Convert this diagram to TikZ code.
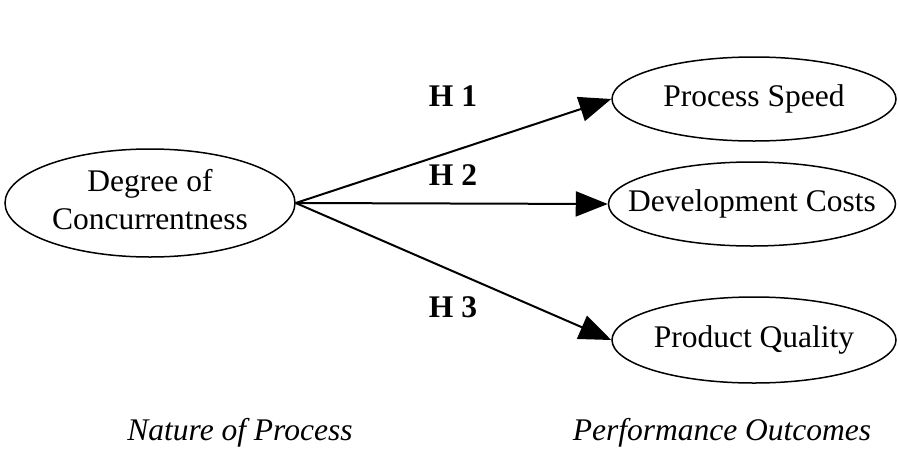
\documentclass[tikz,border=0pt]{standalone}
\usepackage{fontspec}
\setmainfont{Liberation Serif}
\usetikzlibrary{shapes.geometric,arrows.meta}
\begin{document}
\begin{tikzpicture}[x=1pt,y=-1pt,font=\fontsize{31.5}{38}\selectfont,
    oval/.style={ellipse,draw,line width=1.5pt,inner sep=0pt},
    link/.style={line width=2pt,-{Triangle[length=32pt,width=25pt]}}]
    \useasboundingbox (0,0) rectangle (899,453);

    % Ellipses
    \node[oval,minimum width=290pt,minimum height=108pt] (degree) at (150,203)
        {\makebox[0pt]{\begin{tabular}{@{}c@{}}Degree of\\Concurrentness\end{tabular}}};
    \node[oval,minimum width=284pt,minimum height=84pt] (speed) at (754,99)
        {\makebox[0pt]{Process Speed}};
    \node[oval,minimum width=287pt,minimum height=84pt] (costs) at (752,204)
        {\makebox[0pt]{Development Costs}};
    \node[oval,minimum width=284pt,minimum height=86pt] (quality) at (754,340)
        {\makebox[0pt]{Product Quality}};

    % Hypotheses
    \draw[link] (degree.east) -- (speed.west);
    \draw[link] (degree.east) -- (costs.west);
    \draw[link] (degree.east) -- (quality.west);
    \node[font=\fontsize{31.5}{38}\selectfont\bfseries] (h1) at (453,96) {H 1};
    \node[font=\fontsize{31.5}{38}\selectfont\bfseries] (h2) at (453,175) {H 2};
    \node[font=\fontsize{31.5}{38}\selectfont\bfseries] (h3) at (453,307) {H 3};

    % Labels for columns
    \node[font=\fontsize{31.5}{38}\selectfont\itshape] (nature) at (240,433) {Nature of Process};
    \node[font=\fontsize{31.5}{38}\selectfont\itshape] (outcomes) at (722,433) {Performance Outcomes};
\end{tikzpicture}
\end{document}
